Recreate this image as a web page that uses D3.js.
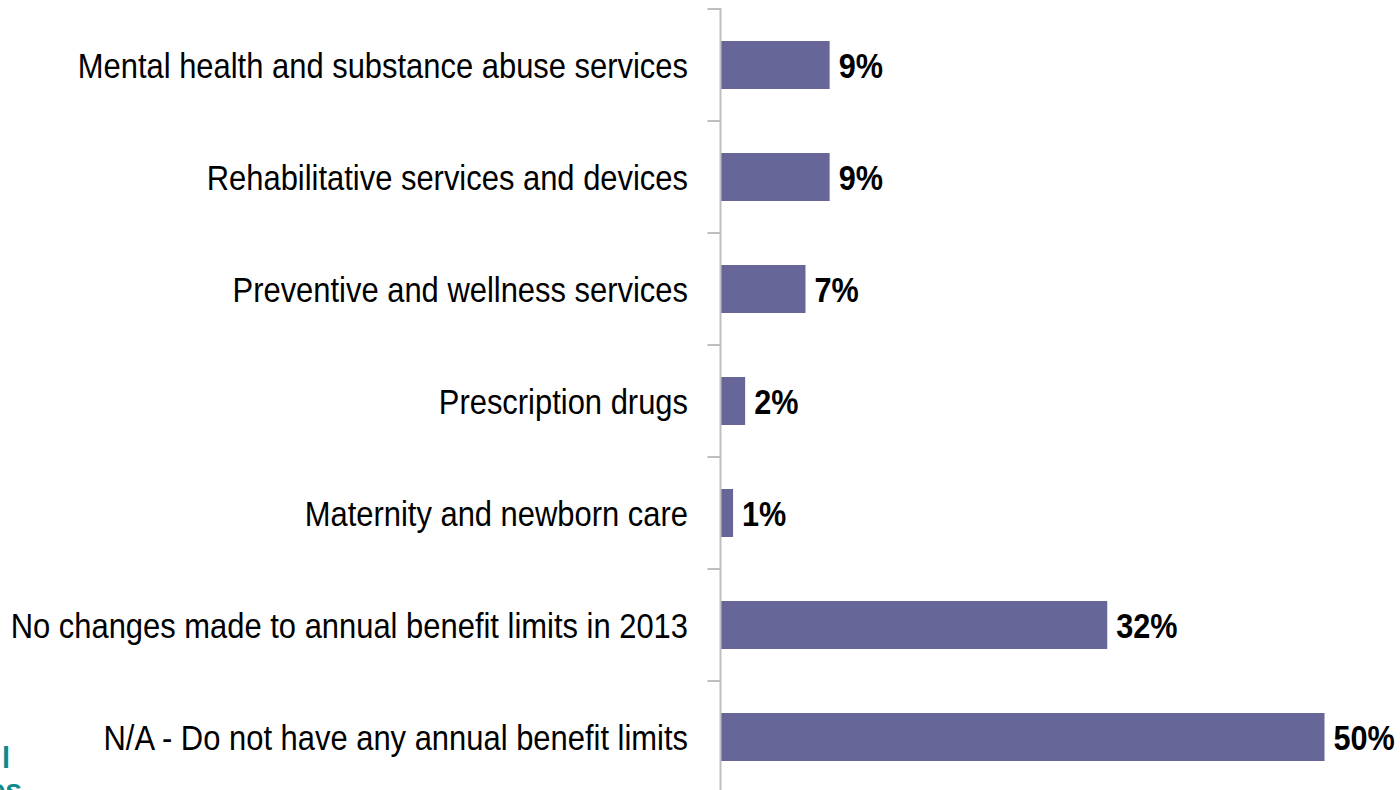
<!DOCTYPE html>
<html>
<head>
<meta charset="utf-8">
<script src="https://cdn.jsdelivr.net/npm/d3@7"></script>
<style>
  html, body { margin: 0; padding: 0; background: #ffffff; }
  svg { display: block; }
  text { font-family: "Liberation Sans", Arial, sans-serif; }
</style>
</head>
<body>
<svg id="chart" width="1400" height="790"></svg>
<script>
// Annual benefit limit changes, share of respondents
const categories = [
  "Mental health and substance abuse services",
  "Rehabilitative services and devices",
  "Preventive and wellness services",
  "Prescription drugs",
  "Maternity and newborn care",
  "No changes made to annual benefit limits in 2013",
  "N/A - Do not have any annual benefit limits"
];
const values = [9, 9, 7, 2, 1, 32, 50];
const valueLabels = ["9%", "9%", "7%", "2%", "1%", "32%", "50%"];

const svg = d3.select("#chart");

const axisX = 720.5;
const fontSize = 35;
const labelSqueeze = 0.884; // condensed category text
const valueSqueeze = 0.875; // condensed value text

const y = d3.scaleBand()
  .domain(categories)
  .range([9, 793])
  .paddingInner(0.5714)
  .paddingOuter(0.2857);

// band edges used for the tick marks
const yEdges = d3.scaleBand().domain(categories).range([9, 793]).padding(0);

const x = d3.scaleLinear().domain([0, 50]).range([721, 1324.5]);

// bars
svg.append("g")
  .selectAll("rect")
  .data(values)
  .join("rect")
  .attr("x", x(0))
  .attr("y", (d, i) => y(categories[i]))
  .attr("width", d => x(d) - x(0))
  .attr("height", y.bandwidth())
  .attr("fill", "#666699");

// vertical axis with ticks at category boundaries
const axis = svg.append("g").attr("stroke", "#bfbfbf").attr("stroke-width", 2);
axis.append("line")
  .attr("x1", axisX).attr("x2", axisX)
  .attr("y1", yEdges.range()[0] - 1).attr("y2", 790);
const edges = categories.map(c => yEdges(c)).concat([yEdges.range()[1]]);
axis.selectAll("line.tick")
  .data(edges)
  .join("line")
  .attr("class", "tick")
  .attr("x1", axisX - 13).attr("x2", axisX)
  .attr("y1", d => d).attr("y2", d => d);

// category labels
svg.append("g")
  .selectAll("text")
  .data(categories)
  .join("text")
  .attr("transform", d => `translate(688,${y(d) + y.bandwidth() / 2}) scale(${labelSqueeze},1)`)
  .attr("dy", "0.36em")
  .attr("text-anchor", "end")
  .attr("font-size", fontSize)
  .attr("fill", "#000")
  .text(d => d);

// value labels
svg.append("g")
  .selectAll("text")
  .data(values)
  .join("text")
  .attr("transform", (d, i) => `translate(${x(d) + 9},${y(categories[i]) + y.bandwidth() / 2}) scale(${valueSqueeze},1)`)
  .attr("dy", "0.36em")
  .attr("font-size", fontSize)
  .attr("font-weight", "bold")
  .attr("fill", "#000")
  .text((d, i) => valueLabels[i]);

// logo fragment at the lower left edge
const logo = svg.append("g").attr("fill", "#0e8a8c").attr("font-weight", "bold");
logo.append("text").attr("x", 2).attr("y", 768).attr("font-size", 29).text("l");
logo.append("text").attr("x", 22).attr("y", 800).attr("font-size", 30).attr("text-anchor", "end").text("es");
</script>
</body>
</html>
